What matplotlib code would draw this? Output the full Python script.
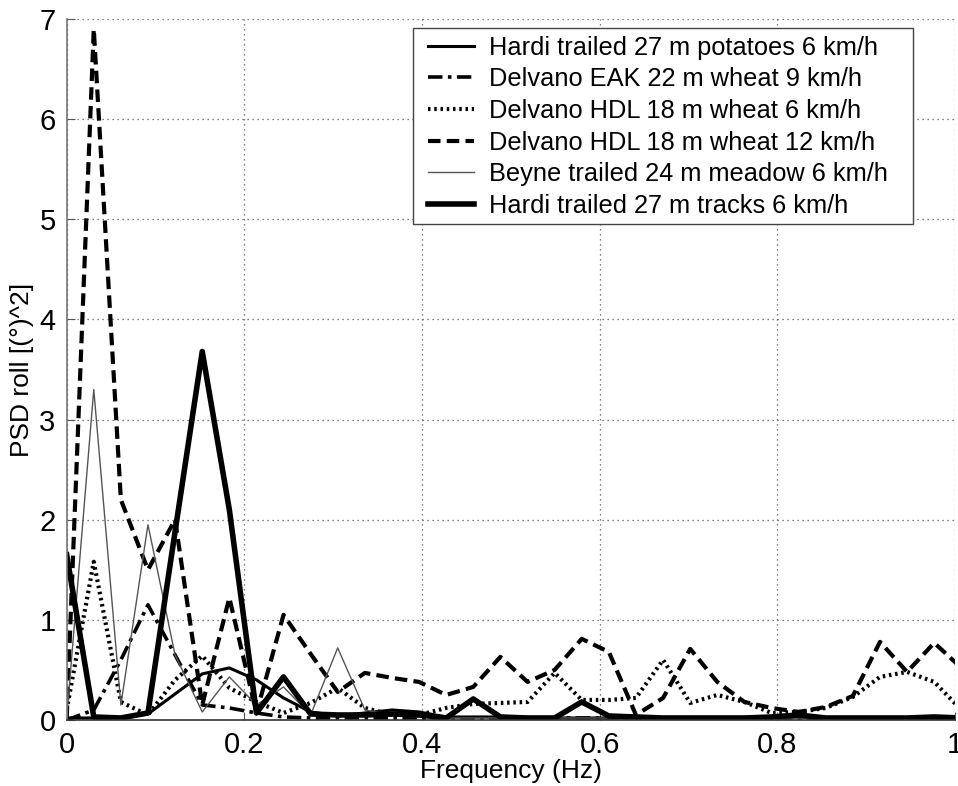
import matplotlib
matplotlib.use("Agg")
import matplotlib.pyplot as plt
from matplotlib.patches import Rectangle

plt.rcParams['font.family'] = ['Liberation Sans', 'DejaVu Sans']

freq = [0.0, 0.0305, 0.061, 0.0915, 0.122, 0.1526, 0.1831, 0.2136, 0.2441, 0.2746,
        0.3051, 0.3357, 0.3662, 0.3967, 0.4272, 0.4577, 0.4882, 0.5188, 0.5493, 0.5798,
        0.6103, 0.6408, 0.6714, 0.7019, 0.7324, 0.7629, 0.7934, 0.8239, 0.8545, 0.885,
        0.9155, 0.946, 0.9766, 1.0071]

hardi_potatoes = [0.02, 0.02, 0.02, 0.06, 0.26, 0.46, 0.52, 0.40, 0.22, 0.08,
                  0.04, 0.07, 0.10, 0.08, 0.03, 0.03, 0.03, 0.02, 0.02, 0.02,
                  0.02, 0.02, 0.02, 0.02, 0.02, 0.02, 0.02, 0.03, 0.02, 0.02,
                  0.02, 0.02, 0.02, 0.02]

eak_9 = [0.0, 0.10, 0.60, 1.15, 0.65, 0.15, 0.12, 0.07, 0.03, 0.02,
         0.02, 0.02, 0.02, 0.02, 0.02, 0.02, 0.02, 0.02, 0.02, 0.02,
         0.02, 0.02, 0.02, 0.02, 0.02, 0.02, 0.02, 0.02, 0.02, 0.02,
         0.02, 0.02, 0.02, 0.02]

hdl_6 = [0.10, 1.58, 0.18, 0.05, 0.40, 0.64, 0.32, 0.18, 0.07, 0.17,
         0.32, 0.12, 0.05, 0.05, 0.12, 0.16, 0.17, 0.18, 0.47, 0.20,
         0.20, 0.22, 0.60, 0.17, 0.25, 0.18, 0.07, 0.08, 0.12, 0.23,
         0.43, 0.48, 0.38, 0.10]

hdl_12 = [0.02, 6.90, 2.20, 1.50, 2.00, 0.15, 1.22, 0.07, 1.05, 0.66,
          0.28, 0.47, 0.42, 0.38, 0.25, 0.33, 0.63, 0.38, 0.50, 0.81,
          0.68, 0.05, 0.22, 0.71, 0.38, 0.18, 0.12, 0.08, 0.13, 0.24,
          0.78, 0.48, 0.77, 0.52]

beyne_meadow = [0.02, 3.30, 0.15, 1.95, 0.65, 0.08, 0.43, 0.15, 0.33, 0.05,
                0.72, 0.10, 0.05, 0.03, 0.02, 0.02, 0.02, 0.02, 0.02, 0.02,
                0.02, 0.02, 0.02, 0.02, 0.02, 0.02, 0.02, 0.02, 0.02, 0.02,
                0.02, 0.02, 0.02, 0.02]

hardi_tracks = [1.65, 0.03, 0.02, 0.07, 1.88, 3.68, 2.10, 0.07, 0.43, 0.06,
                0.05, 0.05, 0.06, 0.05, 0.02, 0.21, 0.03, 0.02, 0.02, 0.18,
                0.04, 0.03, 0.02, 0.02, 0.02, 0.02, 0.03, 0.05, 0.02, 0.02,
                0.02, 0.02, 0.03, 0.02]

labels = ["Hardi trailed 27 m potatoes 6 km/h",
          "Delvano EAK 22 m wheat 9 km/h",
          "Delvano HDL 18 m wheat 6 km/h",
          "Delvano HDL 18 m wheat 12 km/h",
          "Beyne trailed 24 m meadow 6 km/h",
          "Hardi trailed 27 m tracks 6 km/h"]

xticks = [0, 0.2, 0.4, 0.6, 0.8, 1]
xticklabels = ["0", "0.2", "0.4", "0.6", "0.8", "1"]
yticks = [0, 1, 2, 3, 4, 5, 6, 7]

fig = plt.figure(figsize=(9.58, 7.86), dpi=100)
ax = fig.add_axes([0.0696, 0.084, 0.9273, 0.8918])

ax.plot(freq, hardi_potatoes, color='black', lw=2.2, ls='-', label=labels[0])
ax.plot(freq, eak_9, color='black', lw=2.6, ls=(0, (4, 1.5, 1, 1.5)), label=labels[1])
ax.plot(freq, hdl_6, color='black', lw=3.0, ls=(0, (0.6, 0.9)), label=labels[2])
ax.plot(freq, hdl_12, color='black', lw=3.0, ls=(0, (3, 1.5)), label=labels[3])
ax.plot(freq, beyne_meadow, color='#555555', lw=1.0, ls='-', label=labels[4])
ax.plot(freq, hardi_tracks, color='black', lw=4.0, ls='-', label=labels[5])

ax.set_xlim(0, 1)
ax.set_ylim(0, 7)
ax.set_xticks(xticks)
ax.set_xticklabels(xticklabels)
ax.set_yticks(yticks)
ax.tick_params(direction='in', labelsize=21, length=6, color='#555555', pad=8)
ax.grid(True, ls=(0, (1, 3)), color='#555555', lw=0.9)
for s in ['top', 'right']:
    ax.spines[s].set_visible(False)
ax.spines['left'].set_color('#777777')
ax.spines['bottom'].set_color('#333333')
ax.spines['left'].set_linewidth(1.2)
ax.spines['bottom'].set_linewidth(1.2)

ax.set_xlabel("Frequency (Hz)", fontsize=19, labelpad=0)
ax.set_ylabel("PSD roll [(°)^2]", fontsize=19, labelpad=4)

# legend frame drawn separately (wider right padding like the original)
frame = Rectangle((413 / 958, (786 - 224) / 786), 500 / 958, 196 / 786,
                  transform=fig.transFigure, facecolor='white', edgecolor='#444444',
                  lw=1.0, zorder=4.5)
ax.add_patch(frame)
frame.set_clip_on(False)

leg = ax.legend(loc='upper left', bbox_to_anchor=(0.4067, 0.9763), fontsize=18.3,
                frameon=False, handlelength=1.8, handletextpad=0.6, borderpad=0,
                labelspacing=0.3, borderaxespad=0)
leg.set_zorder(5)

fig.savefig("out.png", dpi=100)
